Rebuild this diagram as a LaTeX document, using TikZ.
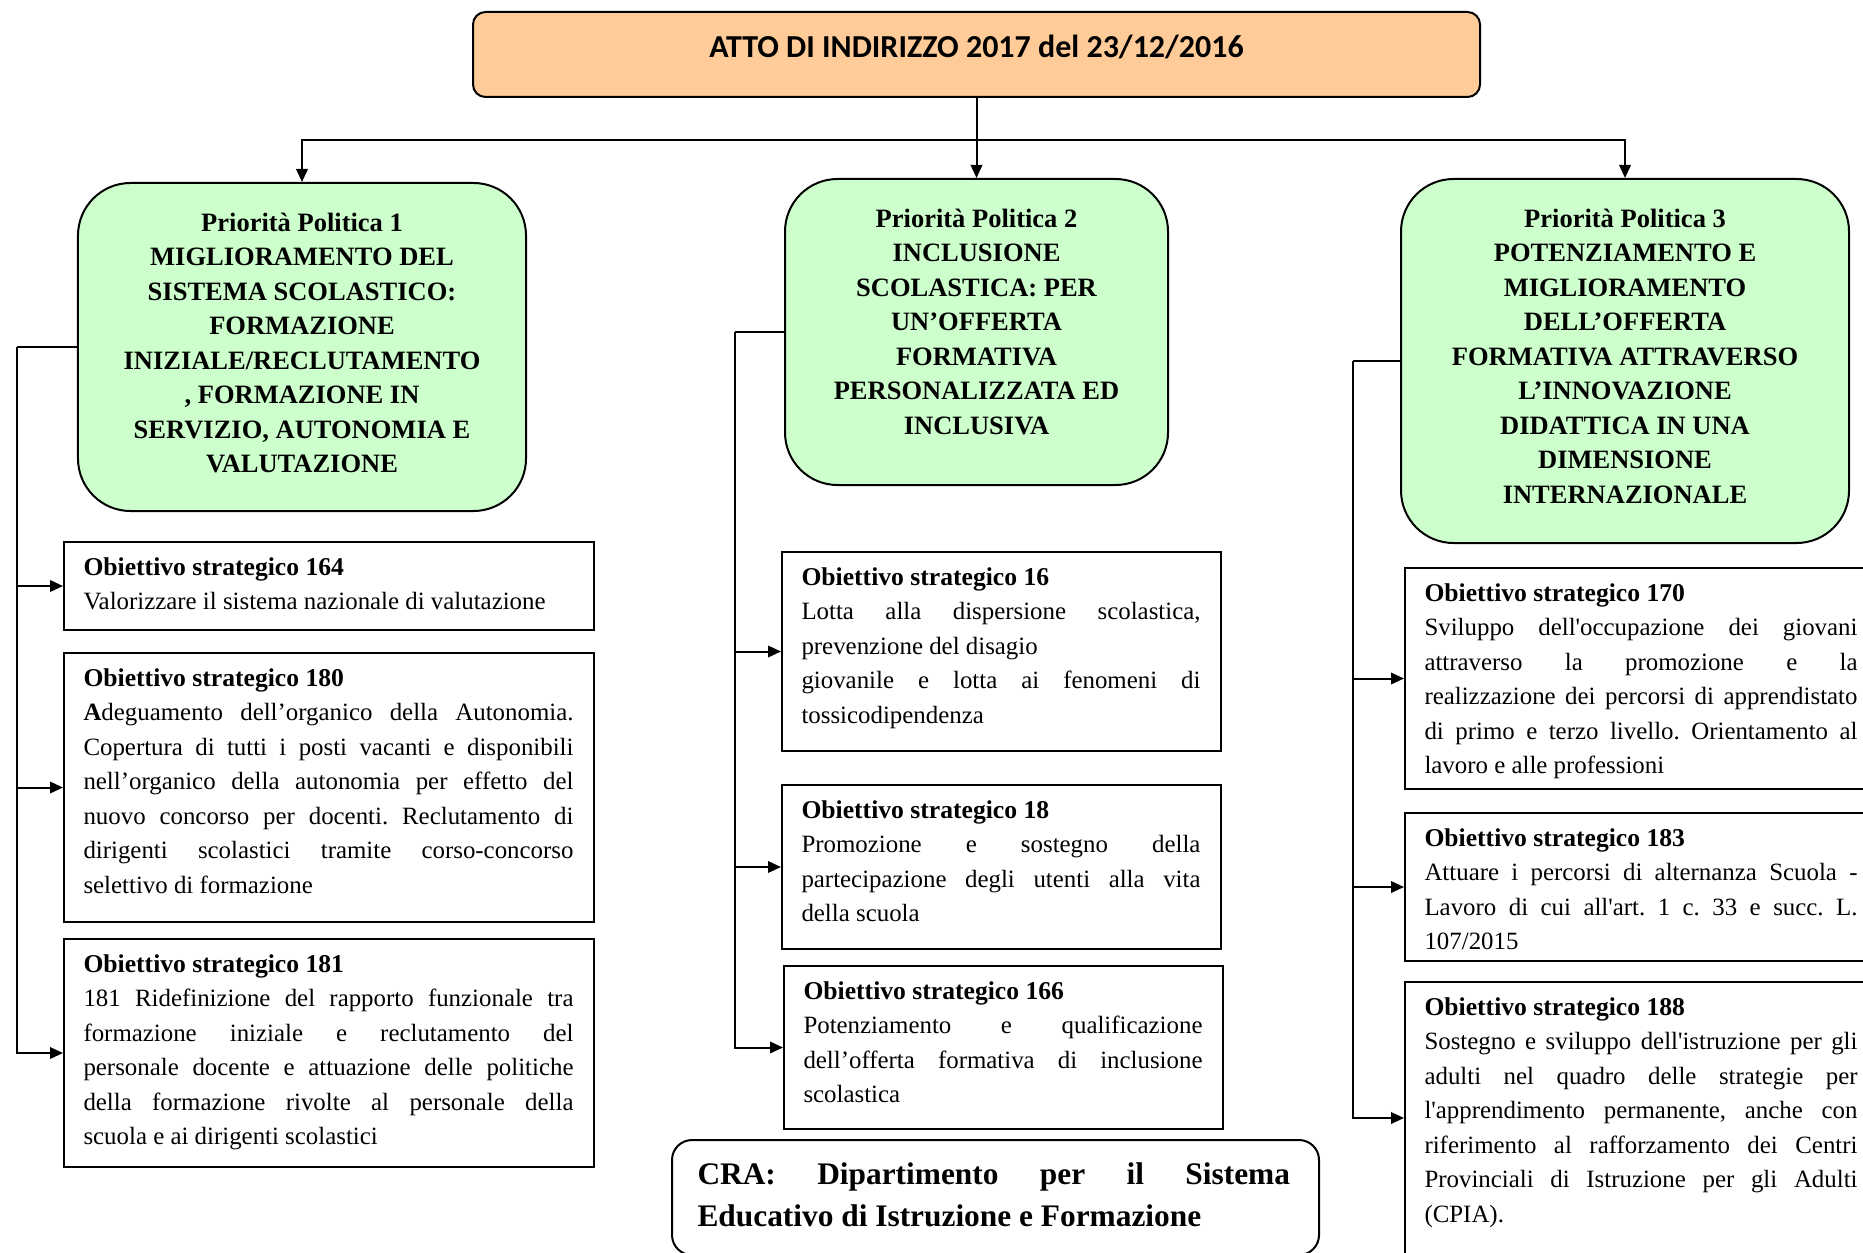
\documentclass[tikz,border=0pt]{standalone}
\usepackage{fontspec}
\setmainfont{Liberation Serif}
\newfontfamily\titlefont{Carlito}
% plain XeTeX font instance, used only for the straight apostrophe
\font\sqfont="Liberation Serif" at 9.95pt
\newcommand\sq{{\sqfont'}}
\newcommand\otitle[1]{{\fontsize{10.25pt}{13.8pt}\selectfont\bfseries #1}}
\usetikzlibrary{arrows.meta}
\definecolor{peach}{RGB}{255,204,153}
\definecolor{mint}{RGB}{204,255,204}
\setlength\parindent{0pt}
\pretolerance=10000 \tolerance=10000 \hbadness=10000 \hyphenpenalty=10000
\frenchspacing
\tikzset{
  title box/.style={draw, line width=0.8pt, fill=peach, rounded corners=5pt, inner sep=0pt},
  priority box/.style={draw, line width=0.8pt, fill=mint, rounded corners=21pt, inner sep=0pt},
  priority text/.style={anchor=north, inner sep=0pt, align=center,
    font=\fontsize{10.6pt}{13.8pt}\selectfont\bfseries},
  obox/.style={draw, line width=0.8pt, fill=white, inner sep=0pt},
  otext/.style={anchor=north west, inner sep=0pt, align=justify,
    font=\fontsize{9.95pt}{13.8pt}\selectfont},
  cra box/.style={draw, line width=0.8pt, fill=white, rounded corners=8pt, inner sep=0pt},
  cra text/.style={anchor=north west, inner sep=0pt, text width=237pt, align=justify,
    font=\fontsize{12.55pt}{16.7pt}\selectfont\bfseries},
  link/.style={line width=0.8pt},
  arrow/.style={link, -{Triangle[length=5.2pt,width=4.6pt]}},
}
% objective box: name, x1, y1, x2, y2, text (pixel units of the picture grid)
\newcommand\objective[6]{%
  \pgfmathsetlengthmacro\objw{(#4-#2)*0.4pt}%
  \pgfmathsetlengthmacro\objh{(#5-#3)*0.4pt}%
  \pgfmathsetlengthmacro\objtw{(#4-#2)*0.4pt-16pt}%
  \node[obox, minimum width=\objw, minimum height=\objh] (#1) at ({(#2+#4)/2},{(#3+#5)/2}) {};
  \node[otext, text width=\objtw] (#1-text) at ([xshift=8pt,yshift=-6.4pt]#1.north west) {#6};
}
\begin{document}
\begin{tikzpicture}[x=0.4pt,y=-0.4pt]
\useasboundingbox (0,0) rectangle (1863,1252);
\clip (0,0) rectangle (1863,1252);

% title
\node[title box, minimum width=402.8pt, minimum height=34pt] (title) at (976.5,54.5) {};
\node[inner sep=0pt, font=\titlefont\fontsize{12.8pt}{15pt}\selectfont\bfseries] (title-text)
  at ([yshift=-14.6pt]title.north) {ATTO DI INDIRIZZO 2017 del 23/12/2016};

% political priorities
\node[priority box, minimum width=179.2pt, minimum height=131.2pt] (pp1) at (302,347) {};
\node[priority text] (pp1-text) at ([yshift=-12.2pt]pp1.north)
  {Priorità Politica 1\\MIGLIORAMENTO DEL\\SISTEMA SCOLASTICO:\\FORMAZIONE\\
   INIZIALE/RECLUTAMENTO\\, FORMAZIONE IN\\SERVIZIO, AUTONOMIA E\\VALUTAZIONE};

\node[priority box, minimum width=153.2pt, minimum height=122.4pt] (pp2) at (976.5,332) {};
\node[priority text] (pp2-text) at ([yshift=-12.2pt]pp2.north)
  {Priorità Politica 2\\INCLUSIONE\\SCOLASTICA: PER\\UN’OFFERTA\\FORMATIVA\\
   PERSONALIZZATA ED\\INCLUSIVA};

\node[priority box, minimum width=179.2pt, minimum height=145.6pt] (pp3) at (1625,361) {};
\node[priority text] (pp3-text) at ([yshift=-12.2pt]pp3.north)
  {Priorità Politica 3\\POTENZIAMENTO E\\MIGLIORAMENTO\\DELL’OFFERTA\\
   FORMATIVA ATTRAVERSO\\L’INNOVAZIONE\\DIDATTICA IN UNA\\DIMENSIONE\\INTERNAZIONALE};

% strategic objectives, first column
\objective{o164}{64}{542}{594}{630}{\otitle{Obiettivo strategico 164}\\
  Valorizzare il sistema nazionale di valutazione}
\objective{o180}{64}{653}{594}{922}{\otitle{Obiettivo strategico 180}\\
  \textbf{A}deguamento dell’organico della Autonomia.\linebreak
  Copertura di tutti i posti vacanti e disponibili\linebreak
  nell’organico della autonomia per effetto del\linebreak
  nuovo concorso per docenti. Reclutamento di\linebreak
  dirigenti scolastici tramite corso-concorso\linebreak
  selettivo di formazione}
\objective{o181}{64}{939}{594}{1167}{\otitle{Obiettivo strategico 181}\\
  181 Ridefinizione del rapporto funzionale tra\linebreak
  formazione iniziale e reclutamento del\linebreak
  personale docente e attuazione delle politiche\linebreak
  della formazione rivolte al personale della\linebreak
  scuola e ai dirigenti scolastici}

% second column
\objective{o16}{782}{552}{1221}{751}{\otitle{Obiettivo strategico 16}\\
  Lotta alla dispersione scolastica,\linebreak
  prevenzione del disagio\\
  giovanile e lotta ai fenomeni di\linebreak
  tossicodipendenza}
\objective{o18}{782}{785}{1221}{949}{\otitle{Obiettivo strategico 18}\\
  Promozione e sostegno della\linebreak
  partecipazione degli utenti alla vita\linebreak
  della scuola}
\objective{o166}{784}{966}{1223}{1129}{\otitle{Obiettivo strategico 166}\\
  Potenziamento e qualificazione\linebreak
  dell’offerta formativa di inclusione\linebreak
  scolastica}

% responsible department, running off the lower edge
\node[cra box, minimum width=258.8pt, minimum height=46pt] (cra) at (995.5,1197.5) {};
\node[cra text] (cra-text) at ([xshift=10.4pt,yshift=-9.2pt]cra.north west)
  {CRA: Dipartimento per il Sistema\linebreak Educativo di Istruzione e Formazione};

% third column
\objective{o170}{1405}{568}{1878}{789}{\otitle{Obiettivo strategico 170}\\
  Sviluppo dell\sq occupazione dei giovani\linebreak
  attraverso la promozione e la\linebreak
  realizzazione dei percorsi di apprendistato\linebreak
  di primo e terzo livello. Orientamento al\linebreak
  lavoro e alle professioni}
\objective{o183}{1405}{813}{1878}{961}{\otitle{Obiettivo strategico 183}\\
  Attuare i percorsi di alternanza Scuola -\linebreak
  Lavoro di cui all\sq art. 1 c. 33 e succ. L.\linebreak
  107/2015}
\objective{o188}{1405}{982}{1878}{1254}{\otitle{Obiettivo strategico 188}\\
  Sostegno e sviluppo dell\sq istruzione per gli\linebreak
  adulti nel quadro delle strategie per\linebreak
  l\sq apprendimento permanente, anche con\linebreak
  riferimento al rafforzamento dei Centri\linebreak
  Provinciali di Istruzione per gli Adulti\linebreak
  (CPIA).}

% connectors from the title to the priorities
\coordinate (hub) at (976.5,140);
\draw[link] (title.south) -- (hub);
\draw[arrow] (hub) -- (pp2.north);
\draw[arrow] (hub) -| (pp1.north);
\draw[arrow] (hub) -| (pp3.north);

% connectors from each priority to its objectives
\coordinate (b1) at (17,347);
\draw[link] (pp1.west) -- (b1);
\draw[arrow] (b1) |- (o164.west);
\draw[arrow] (b1) |- (o180.west);
\draw[arrow] (b1) |- (o181.west);

\coordinate (b2) at (735,332);
\draw[link] (pp2.west) -- (b2);
\draw[arrow] (b2) |- (o16.west);
\draw[arrow] (b2) |- (o18.west);
\draw[arrow] (b2) |- (o166.west);

\coordinate (b3) at (1353,361);
\draw[link] (pp3.west) -- (b3);
\draw[arrow] (b3) |- (o170.west);
\draw[arrow] (b3) |- (o183.west);
\draw[arrow] (b3) |- (o188.west);
\end{tikzpicture}
\end{document}
